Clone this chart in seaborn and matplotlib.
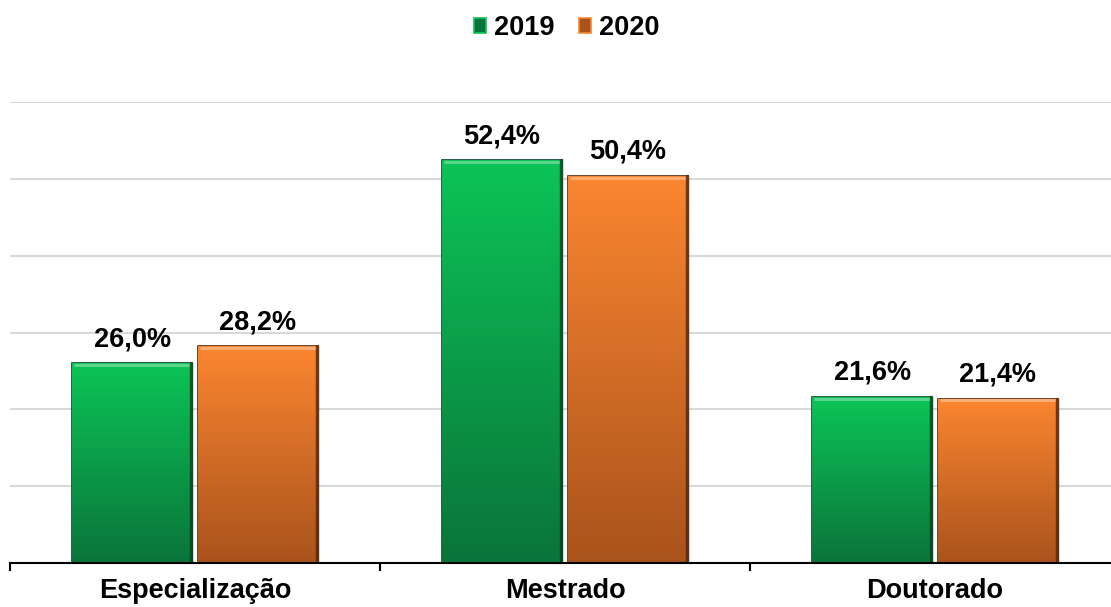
import numpy as np
import matplotlib
matplotlib.use("Agg")
import matplotlib.pyplot as plt
import matplotlib.colors as mcolors
from matplotlib.patches import Patch
import seaborn as sns
import pandas as pd

categories = ["Especialização", "Mestrado", "Doutorado"]
years = ["2019", "2020"]
v2019 = [26.0, 52.4, 21.6]
v2020 = [28.2, 50.4, 21.4]

TOP_COLORS = {"2019": "#0cc457", "2020": "#fb8630"}
BOT_COLORS = {"2019": "#0a743a", "2020": "#a9531c"}
EDGE_COLORS = {"2019": "#05401f", "2020": "#4f260b"}
FS = 19.5

df = pd.DataFrame({
    "cat": categories * 2,
    "year": [years[0]] * 3 + [years[1]] * 3,
    "val": v2019 + v2020,
})

sns.set_theme(style="white")
plt.rcParams["font.family"] = ["Liberation Sans", "DejaVu Sans"]

fig = plt.figure(figsize=(11.11, 6.07), dpi=100)
ax = fig.add_axes([10 / 1111, 1 - 563 / 607, 1110 / 1111, 461 / 607])

sns.barplot(data=df, x="cat", y="val", hue="year", order=categories,
            hue_order=years, palette=TOP_COLORS, width=0.68, gap=0.04,
            legend=False, ax=ax, zorder=3)

# vertical gradient fill clipped to each bar
for year, cont in zip(years, ax.containers):
    c_top = np.array(mcolors.to_rgb(TOP_COLORS[year]))
    c_bot = np.array(mcolors.to_rgb(BOT_COLORS[year]))
    t = np.linspace(0, 1, 256)[:, None]
    grad = (c_top * (1 - t) + c_bot * t)[:, None, :]
    for bar in cont:
        x0, w, h = bar.get_x(), bar.get_width(), bar.get_height()
        bar.set_edgecolor(EDGE_COLORS[year])
        bar.set_linewidth(1.2)
        im = ax.imshow(grad, extent=[x0, x0 + w, 0, h], aspect="auto",
                       origin="upper", zorder=3.5, interpolation="bilinear")
        im.set_clip_path(bar)
        # light top bevel and dark right edge
        ax.plot([x0 + w * 0.02, x0 + w * 0.98], [h - 0.25, h - 0.25],
                color="white", alpha=0.35, lw=2, zorder=4,
                solid_capstyle="butt")
        ax.plot([x0 + w - 0.004, x0 + w - 0.004], [0, h], color=EDGE_COLORS[year],
                alpha=0.8, lw=2.5, zorder=4)
    labels = [f"{v:.1f}%".replace(".", ",") for v in cont.datavalues]
    ax.bar_label(cont, labels=labels, padding=8, fontsize=FS,
                 fontweight="bold", color="black", zorder=5)

ax.set_xlim(-0.5, 2.5)
ax.set_ylim(0, 60)
ax.set_yticks(np.arange(0, 61, 10))
ax.set_yticklabels([])
ax.yaxis.grid(True, color="#d9d9d9", linewidth=1.5, zorder=0)
ax.set_axisbelow(True)
ax.tick_params(axis="y", length=0)

for s in ["top", "right", "left"]:
    ax.spines[s].set_visible(False)
ax.spines["bottom"].set_color("black")
ax.spines["bottom"].set_linewidth(1.5)
ax.spines["bottom"].set_zorder(6)

ax.set_xticks([-0.5, 0.5, 1.5, 2.5], minor=True)
ax.tick_params(axis="x", which="minor", length=6, width=1.5, color="black",
               direction="out", bottom=True)
ax.tick_params(axis="x", which="major", length=0, pad=11)
ax.set_xticklabels(categories, fontsize=FS, fontweight="bold", color="black")
ax.set_xlabel("")
ax.set_ylabel("")

handles = [Patch(facecolor=BOT_COLORS[y], edgecolor=TOP_COLORS[y], linewidth=1.2)
           for y in years]
fig.legend(handles, years, loc="upper center", bbox_to_anchor=(0.51, 1.015),
           ncol=2, frameon=False, handlelength=0.45, handleheight=0.45,
           handletextpad=0.3, columnspacing=0.9, labelcolor="black",
           prop={"size": FS, "weight": "bold"})

fig.savefig("out.png", dpi=100)
